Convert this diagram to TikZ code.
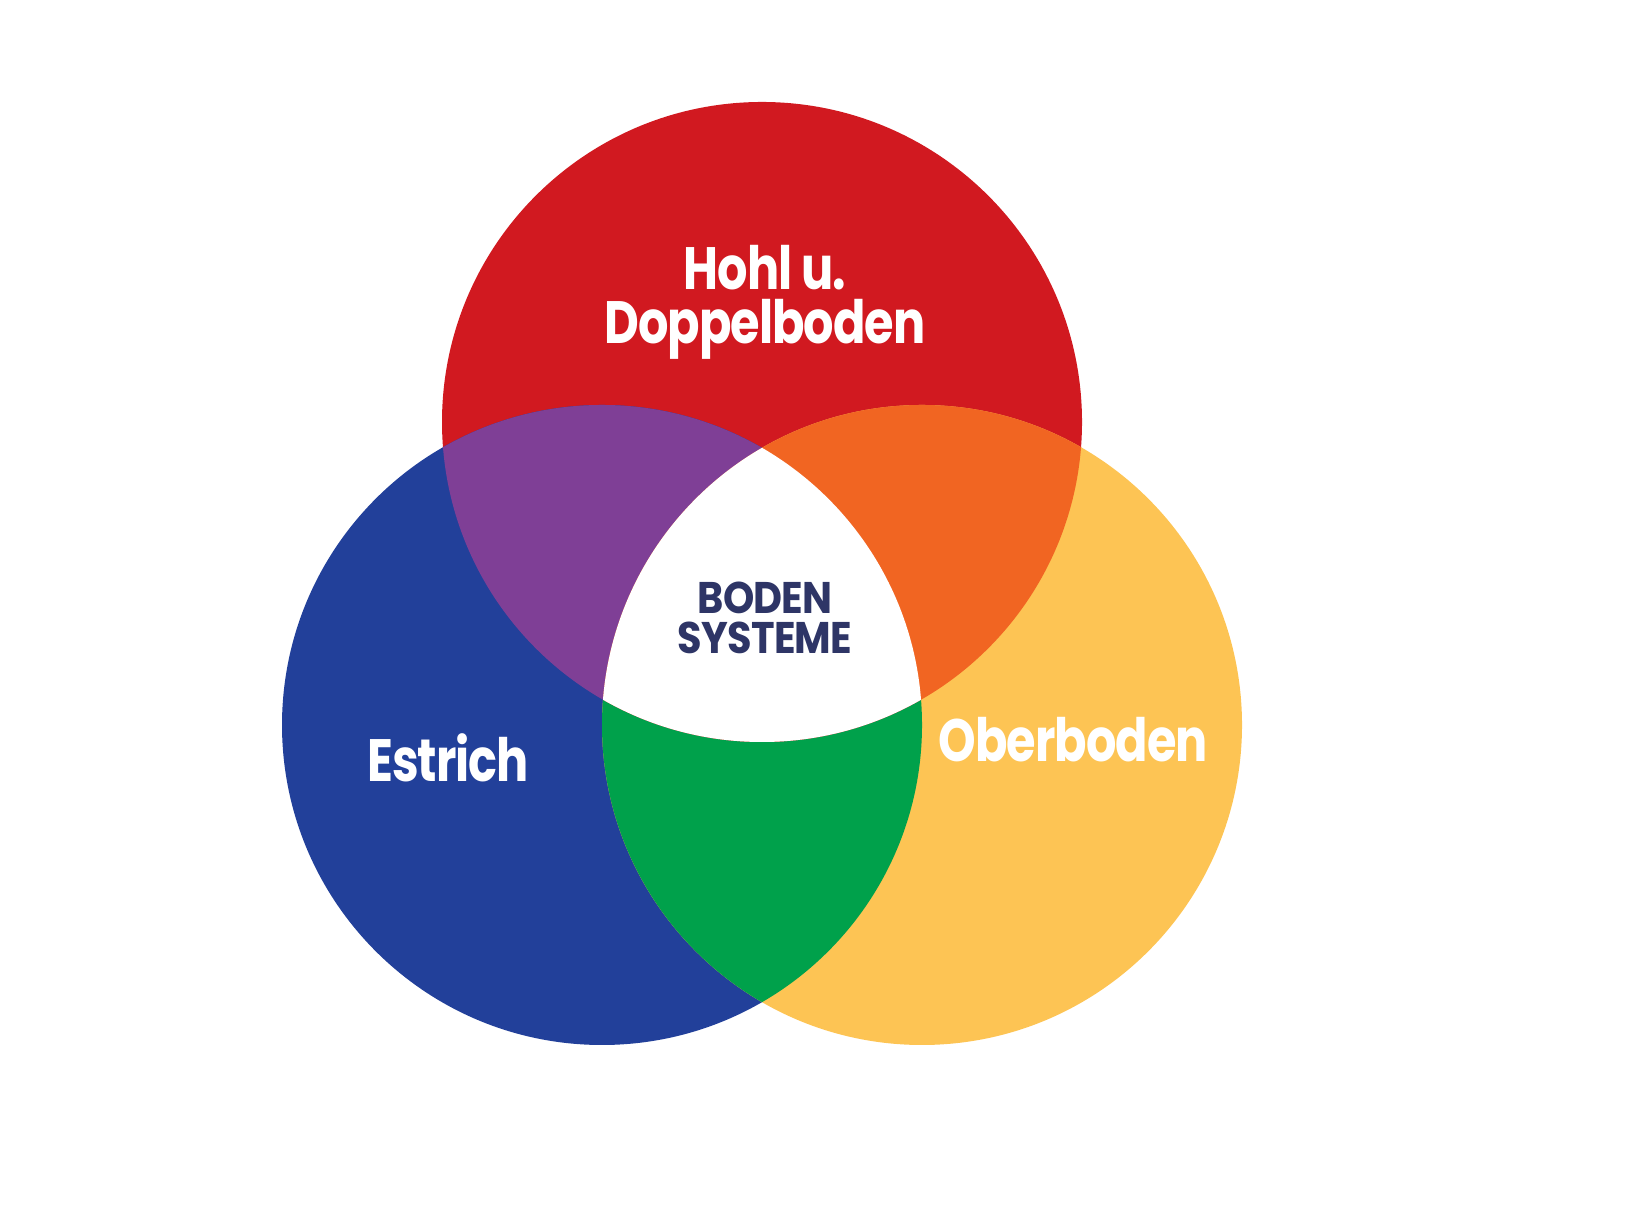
\documentclass[tikz,border=0pt]{standalone}
\usepackage{fontspec}
\usepackage{graphicx}
\newfontfamily\vennfont[LetterSpace=-2]{Poppins}
\newcommand{\schmal}[1]{\scalebox{0.8}[1]{#1}}
\definecolor{hohlrot}{RGB}{209,25,32}
\definecolor{estrichblau}{RGB}{34,64,154}
\definecolor{obergelb}{RGB}{253,196,84}
\definecolor{lila}{RGB}{127,63,150}
\definecolor{orangerot}{RGB}{241,101,34}
\definecolor{gruen}{RGB}{0,161,75}
\definecolor{nachtblau}{RGB}{46,53,102}
\begin{document}
\begin{tikzpicture}[line join=round, line cap=round,
  label/.style={text=white, align=center, font=\vennfont\bfseries\fontsize{17}{15.4}\selectfont}]
\def\r{3.2}
\useasboundingbox (0,0) rectangle (16.38,12.28);
\coordinate (T) at (7.62,8.06);
\coordinate (L) at (6.02,5.03);
\coordinate (R) at (9.22,5.03);
% drei Kreise
\fill[hohlrot] (T) circle(\r);
\fill[estrichblau] (L) circle(\r);
\fill[obergelb] (R) circle(\r);
% Schnittflaechen
\begin{scope}
  \clip (L) circle(\r);
  \fill[gruen] (R) circle(\r);
\end{scope}
\begin{scope}
  \clip (T) circle(\r);
  \fill[lila] (L) circle(\r);
  \fill[orangerot] (R) circle(\r);
  \clip (L) circle(\r);
  \fill[white] (R) circle(\r);
\end{scope}
% Beschriftung
\node[label] (hohl) at (7.65,9.26) {\schmal{Hohl u.}\\\schmal{Doppelboden}};
\node[label] (estrich) at (4.48,4.70) {\schmal{Estrich}};
\node[label] (ober) at (10.73,4.88) {\schmal{Oberboden}};
\node[align=center, text=nachtblau, font=\vennfont\bfseries\fontsize{12.6}{11.4}\selectfont] (boden) at (7.65,6.10) {\scalebox{0.9}[1]{BODEN}\\\scalebox{0.9}[1]{SYSTEME}};
\end{tikzpicture}
\end{document}
